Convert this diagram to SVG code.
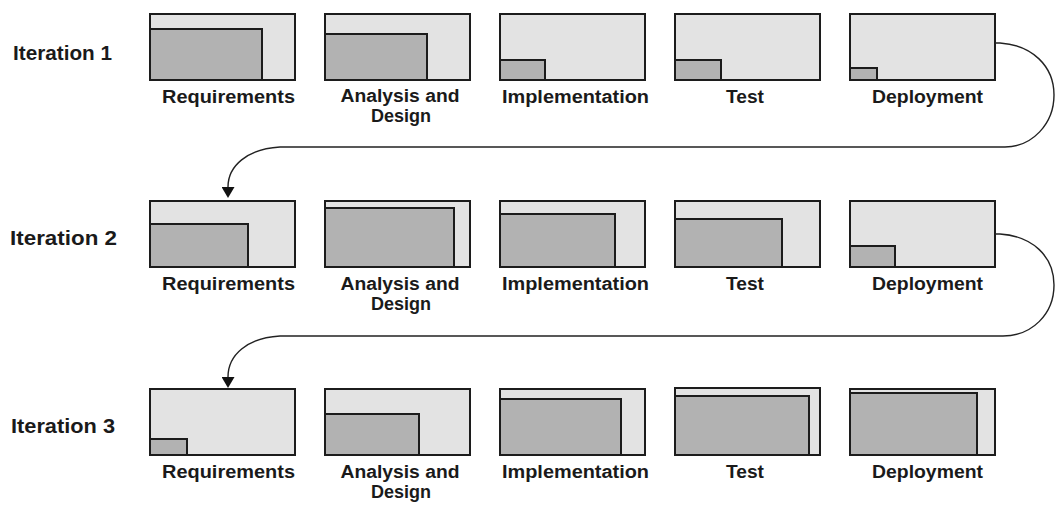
<svg xmlns="http://www.w3.org/2000/svg" width="1055" height="505" viewBox="0 0 1055 505">
<style>
.outer{fill:#e3e3e3;stroke:#1c1c1c;stroke-width:2}
.inner{fill:#b2b2b2;stroke:#1c1c1c;stroke-width:2}
.lbl{font-family:"Liberation Sans",Arial,sans-serif;font-weight:bold;font-size:18px;fill:#1a1a1a;text-anchor:middle}
.it{font-family:"Liberation Sans",Arial,sans-serif;font-weight:bold;font-size:21px;fill:#1a1a1a}
.conn{fill:none;stroke:#222;stroke-width:1.4}
</style>
<defs>
<marker id="ah" viewBox="0 0 11 13" refX="0" refY="6.5" markerWidth="11" markerHeight="13" markerUnits="userSpaceOnUse" orient="auto">
<path d="M0,0 L11,6.5 L0,13 z" fill="#111"/>
</marker>
</defs>

<g id="iter-labels">
<text class="it" x="13" y="60" textLength="99" lengthAdjust="spacingAndGlyphs">Iteration 1</text>
<text class="it" x="10" y="245" textLength="107" lengthAdjust="spacingAndGlyphs">Iteration 2</text>
<text class="it" x="11" y="433" textLength="104" lengthAdjust="spacingAndGlyphs">Iteration 3</text>
</g>

<!-- Iteration 1 -->
<g id="i1-req"><rect class="outer" x="150" y="14" width="145" height="66"/><rect class="inner" x="150" y="29" width="112" height="51"/><text class="lbl" x="228.5" y="103" textLength="133" lengthAdjust="spacingAndGlyphs">Requirements</text></g>
<g id="i1-ana"><rect class="outer" x="325" y="14" width="145" height="66"/><rect class="inner" x="325" y="34" width="102" height="46"/><text class="lbl" x="400" y="102" textLength="119" lengthAdjust="spacingAndGlyphs">Analysis and</text><text class="lbl" x="401" y="122" textLength="60" lengthAdjust="spacingAndGlyphs">Design</text></g>
<g id="i1-imp"><rect class="outer" x="500" y="14" width="145" height="66"/><rect class="inner" x="500" y="60" width="45" height="20"/><text class="lbl" x="575.5" y="103" textLength="147" lengthAdjust="spacingAndGlyphs">Implementation</text></g>
<g id="i1-test"><rect class="outer" x="675" y="14" width="145" height="66"/><rect class="inner" x="675" y="60" width="46" height="20"/><text class="lbl" x="745" y="103" textLength="38" lengthAdjust="spacingAndGlyphs">Test</text></g>
<g id="i1-dep"><rect class="outer" x="850" y="14" width="145" height="66"/><rect class="inner" x="850" y="68" width="27" height="12"/><text class="lbl" x="927.5" y="103" textLength="111" lengthAdjust="spacingAndGlyphs">Deployment</text></g>

<!-- Iteration 2 -->
<g id="i2-req"><rect class="outer" x="150" y="201" width="145" height="66"/><rect class="inner" x="150" y="224" width="98" height="43"/><text class="lbl" x="228.5" y="290" textLength="133" lengthAdjust="spacingAndGlyphs">Requirements</text></g>
<g id="i2-ana"><rect class="outer" x="325" y="201" width="145" height="66"/><rect class="inner" x="325" y="208" width="129" height="59"/><text class="lbl" x="400" y="290" textLength="119" lengthAdjust="spacingAndGlyphs">Analysis and</text><text class="lbl" x="401" y="310" textLength="60" lengthAdjust="spacingAndGlyphs">Design</text></g>
<g id="i2-imp"><rect class="outer" x="500" y="201" width="145" height="66"/><rect class="inner" x="500" y="214" width="115" height="53"/><text class="lbl" x="575.5" y="290" textLength="147" lengthAdjust="spacingAndGlyphs">Implementation</text></g>
<g id="i2-test"><rect class="outer" x="675" y="201" width="145" height="66"/><rect class="inner" x="675" y="219" width="107" height="48"/><text class="lbl" x="745" y="290" textLength="38" lengthAdjust="spacingAndGlyphs">Test</text></g>
<g id="i2-dep"><rect class="outer" x="850" y="201" width="145" height="66"/><rect class="inner" x="850" y="246" width="45" height="21"/><text class="lbl" x="927.5" y="290" textLength="111" lengthAdjust="spacingAndGlyphs">Deployment</text></g>

<!-- Iteration 3 -->
<g id="i3-req"><rect class="outer" x="150" y="389" width="145" height="66"/><rect class="inner" x="150" y="439" width="37" height="16"/><text class="lbl" x="228.5" y="478" textLength="133" lengthAdjust="spacingAndGlyphs">Requirements</text></g>
<g id="i3-ana"><rect class="outer" x="325" y="389" width="145" height="66"/><rect class="inner" x="325" y="414" width="94" height="41"/><text class="lbl" x="400" y="478" textLength="119" lengthAdjust="spacingAndGlyphs">Analysis and</text><text class="lbl" x="401" y="498" textLength="60" lengthAdjust="spacingAndGlyphs">Design</text></g>
<g id="i3-imp"><rect class="outer" x="500" y="389" width="145" height="66"/><rect class="inner" x="500" y="399" width="121" height="56"/><text class="lbl" x="575.5" y="478" textLength="147" lengthAdjust="spacingAndGlyphs">Implementation</text></g>
<g id="i3-test"><rect class="outer" x="675" y="388" width="145" height="67"/><rect class="inner" x="675" y="396" width="134" height="59"/><text class="lbl" x="745" y="478" textLength="38" lengthAdjust="spacingAndGlyphs">Test</text></g>
<g id="i3-dep"><rect class="outer" x="850" y="389" width="145" height="66"/><rect class="inner" x="850" y="393" width="127" height="62"/><text class="lbl" x="927.5" y="478" textLength="111" lengthAdjust="spacingAndGlyphs">Deployment</text></g>

<g id="connectors">
<path class="conn" marker-end="url(#ah)" d="M995,43 L1000,43 C1032,45 1054,66 1054,95 C1054,124 1032,147 1005,147 L280,147 C247,149 228,166 228,187"/>
<path class="conn" marker-end="url(#ah)" d="M995,234 L1000,234 C1032,236 1054,256 1054,285 C1054,314 1032,336 1003,336 L280,336 C247,338 228,355 228,377"/>
</g>
</svg>
